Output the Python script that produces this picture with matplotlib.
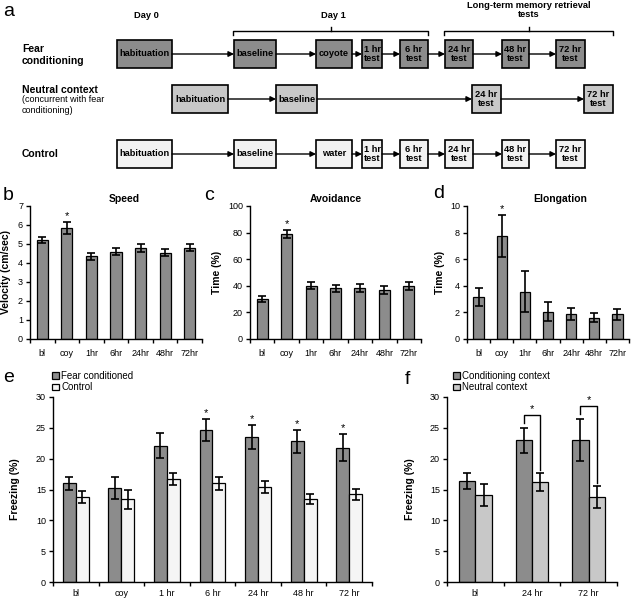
import numpy as np
import matplotlib.pyplot as plt
from matplotlib.patches import Rectangle

plt.rcParams['font.family'] = ['Liberation Sans', 'DejaVu Sans']

W, H = 640, 600

# ---- panel a: protocol ----
row_names = ['Fear\nconditioning', 'Neutral context', 'Control']
fear_stages = ['habituation', 'baseline', 'coyote', '1 hr\ntest', '6 hr\ntest',
               '24 hr\ntest', '48 hr\ntest', '72 hr\ntest']
neutral_stages = ['habituation', 'baseline', '24 hr\ntest', '72 hr\ntest']
control_stages = ['habituation', 'baseline', 'water', '1 hr\ntest', '6 hr\ntest',
                  '24 hr\ntest', '48 hr\ntest', '72 hr\ntest']

# ---- panels b-d ----
time_labels = ['bl', 'coy', '1hr', '6hr', '24hr', '48hr', '72hr']
speed = [5.2, 5.85, 4.35, 4.6, 4.8, 4.55, 4.8]
speed_err = [0.15, 0.3, 0.2, 0.2, 0.2, 0.17, 0.18]
avoid = [30, 79, 40, 38, 38, 37, 40]
avoid_err = [2.5, 3, 2.5, 2.5, 3, 3, 3]
elong = [3.15, 7.75, 3.55, 2.05, 1.9, 1.6, 1.85]
elong_err = [0.7, 1.6, 1.55, 0.7, 0.45, 0.35, 0.4]

# ---- panel e ----
e_labels = ['bl', 'coy', '1 hr', '6 hr', '24 hr', '48 hr', '72 hr']
fear_frz = [16.0, 15.2, 22.1, 24.6, 23.5, 22.8, 21.8]
fear_frz_err = [1.1, 1.8, 2.0, 1.8, 2.0, 1.9, 2.2]
ctrl_frz = [13.8, 13.4, 16.7, 16.0, 15.4, 13.5, 14.2]
ctrl_frz_err = [1.0, 1.6, 1.0, 1.0, 1.0, 0.8, 0.9]
e_sig = [False, False, False, True, True, True, True]

# ---- panel f ----
f_labels = ['bl', '24 hr', '72 hr']
cond_frz = [16.4, 23.0, 23.1]
cond_frz_err = [1.3, 2.0, 3.4]
neut_frz = [14.1, 16.2, 13.8]
neut_frz_err = [1.8, 1.5, 1.8]
f_sig = [False, True, True]

DARK = '#8c8c8c'
MID = '#c8c8c8'
LIGHT = '#f2f2f2'

fig = plt.figure(figsize=(6.4, 6.0), dpi=100)

# layout of panel a (pixel coordinates)
full_x = [(117, 172), (234, 276), (316, 352), (362, 382), (400, 428),
          (445, 473), (502, 529), (556, 585)]
neut_x = [(172, 228), (276, 317), (472, 501), (584, 613)]
rows = [(fear_stages, full_x, (40, 68), DARK),
        (neutral_stages, neut_x, (85, 113), MID),
        (control_stages, full_x, (140, 168), LIGHT)]

axa = fig.add_axes([0, 0, 1, 1])
axa.set_xlim(0, W)
axa.set_ylim(H, 0)
axa.axis('off')

for stages, xs, (y0, y1), col in rows:
    ym = (y0 + y1) / 2
    for name, (x0, x1) in zip(stages, xs):
        axa.add_patch(Rectangle((x0, y0), x1 - x0, y1 - y0, facecolor=col,
                                edgecolor='black', lw=1.2))
        axa.text((x0 + x1) / 2, ym, name, ha='center', va='center',
                 fontsize=6.7, fontweight='bold', linespacing=1.0)
    for (a0, a1), (b0, b1) in zip(xs[:-1], xs[1:]):
        axa.annotate('', xy=(b0, ym), xytext=(a1, ym),
                     arrowprops=dict(arrowstyle='-|>', color='black', lw=1.0,
                                     mutation_scale=8, shrinkA=0, shrinkB=0))

axa.text(22, 55, row_names[0], ha='left', va='center', fontsize=7.5,
         fontweight='bold', linespacing=1.2)
axa.text(22, 90, row_names[1], ha='left', va='center', fontsize=7.5,
         fontweight='bold')
axa.text(22, 105, '(concurrent with fear\nconditioning)', ha='left', va='center',
         fontsize=6.5, linespacing=1.15)
axa.text(22, 154, row_names[2], ha='left', va='center', fontsize=7.5,
         fontweight='bold')

axa.text(146, 16, 'Day 0', ha='center', va='center', fontsize=6.7, fontweight='bold')
axa.text(333, 16, 'Day 1', ha='center', va='center', fontsize=6.7, fontweight='bold')
axa.text(529, 10, 'Long-term memory retrieval\ntests', ha='center', va='center',
         fontsize=6.7, fontweight='bold', linespacing=1.1)
for bx0, bx1 in [(233, 428), (444, 613)]:
    bm = (bx0 + bx1) / 2
    axa.plot([bx0, bx0, bx1, bx1], [35, 31, 31, 35], color='black', lw=1.0)
    axa.plot([bm, bm], [31, 27], color='black', lw=1.0)

axa.text(3, 12, 'a', fontsize=14, va='center', ha='left')
axa.text(3, 195, 'b', fontsize=14, va='center', ha='left')
axa.text(204, 195, 'c', fontsize=14, va='center', ha='left')
axa.text(433, 193, 'd', fontsize=14, va='center', ha='left')
axa.text(3, 378, 'e', fontsize=14, va='center', ha='left')
axa.text(405, 379, 'f', fontsize=14, va='center', ha='left')


def px_axes(x0, y0, x1, y1):
    return fig.add_axes([x0 / W, 1 - y1 / H, (x1 - x0) / W, (y1 - y0) / H])


def excel_style(ax, labels, ymax, ystep, xpad):
    n = len(labels)
    ax.set_xlim(-0.5, n - 0.5)
    ax.set_ylim(0, ymax)
    for s in ['top', 'right']:
        ax.spines[s].set_visible(False)
    for s in ['left', 'bottom']:
        ax.spines[s].set_linewidth(1.0)
    ax.set_xticks(range(n))
    ax.set_xticklabels(labels)
    ax.set_xticks(np.arange(-0.5, n, 1.0), minor=True)
    ax.tick_params(axis='x', which='major', length=0, labelsize=6.5, pad=xpad)
    ax.tick_params(axis='x', which='minor', length=3, direction='out', width=1.0)
    ax.set_yticks(np.arange(0, ymax + ystep / 2, ystep))
    ax.tick_params(axis='y', length=3, direction='out', labelsize=6.5, pad=2, width=1.0)
    ax.patch.set_visible(False)


ekw = dict(elinewidth=1.2, capthick=1.2, ecolor='black')


def single_panel(box, vals, errs, ymax, ystep, title, title_x, ylabel, ylab_x):
    ax = px_axes(*box)
    x = np.arange(len(vals))
    ax.bar(x, vals, width=0.45, color=DARK, edgecolor='black', lw=0.9,
           yerr=errs, capsize=3, error_kw=ekw)
    excel_style(ax, time_labels, ymax, ystep, 7)
    ax.annotate('*', (1, vals[1] + errs[1]), xytext=(0, 0.5),
                textcoords='offset points', ha='center', va='bottom', fontsize=8)
    fig.text(title_x / W, 1 - 199 / H, title, ha='center', va='center',
             fontsize=7.5, fontweight='bold')
    ax.set_ylabel(ylabel, fontsize=7.5, fontweight='bold')
    ax.yaxis.set_label_coords((ylab_x - box[0]) / (box[2] - box[0]), 0.5)
    return ax


single_panel((30, 206, 202, 339), speed, speed_err, 7, 1, 'Speed', 124,
             'Velocity (cm/sec)', 11)
single_panel((250, 206, 421, 339), avoid, avoid_err, 100, 20, 'Avoidance', 336,
             'Time (%)', 222)
single_panel((467, 206, 629, 339), elong, elong_err, 10, 2, 'Elongation', 560,
             'Time (%)', 445)

# ---- panel e ----
axe = px_axes(53, 397, 372, 582)
we = 0.285
xe = np.arange(len(e_labels))
b1 = axe.bar(xe - we / 2, fear_frz, width=we, color=DARK, edgecolor='black', lw=0.9,
             yerr=fear_frz_err, capsize=3, error_kw=ekw)
b2 = axe.bar(xe + we / 2, ctrl_frz, width=we, color='#f5f5f5', edgecolor='black',
             lw=0.9, yerr=ctrl_frz_err, capsize=3, error_kw=ekw)
excel_style(axe, e_labels, 30, 5, 5)
for i, s in enumerate(e_sig):
    if s:
        axe.annotate('*', (xe[i] - we / 2, fear_frz[i] + fear_frz_err[i]),
                     xytext=(0, 0.5), textcoords='offset points', ha='center',
                     va='bottom', fontsize=8)
axe.set_ylabel('Freezing (%)', fontsize=7.5, fontweight='bold')
axe.yaxis.set_label_coords((20 - 53) / (372 - 53), 0.5)
fig.legend([b1, b2], ['Fear conditioned', 'Control'], loc='upper left',
           bbox_to_anchor=(52 / W, 1 - 371 / H), frameon=False, fontsize=7,
           handlelength=0.7, handleheight=0.7, handletextpad=0.25,
           labelspacing=0.15, borderpad=0, borderaxespad=0)

# ---- panel f ----
axf = px_axes(447, 397, 617, 582)
wf = 0.29
xf = np.arange(len(f_labels))
c1 = axf.bar(xf - wf / 2, cond_frz, width=wf, color=DARK, edgecolor='black', lw=0.9,
             yerr=cond_frz_err, capsize=3, error_kw=ekw)
c2 = axf.bar(xf + wf / 2, neut_frz, width=wf, color=MID, edgecolor='black', lw=0.9,
             yerr=neut_frz_err, capsize=3, error_kw=ekw)
excel_style(axf, f_labels, 30, 5, 5)
for i, s in enumerate(f_sig):
    if s:
        lb = cond_frz[i] + cond_frz_err[i] + 0.8
        rb = neut_frz[i] + neut_frz_err[i] + 0.5
        top = lb + 1.3
        axf.plot([xf[i] - wf / 2, xf[i] - wf / 2, xf[i] + wf / 2, xf[i] + wf / 2],
                 [lb, top, top, rb], color='black', lw=1.0, clip_on=False)
        axf.annotate('*', (xf[i], top), xytext=(0, 0.5), textcoords='offset points',
                     ha='center', va='bottom', fontsize=8, annotation_clip=False)
axf.set_ylabel('Freezing (%)', fontsize=7.5, fontweight='bold')
axf.yaxis.set_label_coords((415 - 447) / (617 - 447), 0.5)
fig.legend([c1, c2], ['Conditioning context', 'Neutral context'], loc='upper left',
           bbox_to_anchor=(453 / W, 1 - 371 / H), frameon=False, fontsize=7,
           handlelength=0.7, handleheight=0.7, handletextpad=0.25,
           labelspacing=0.15, borderpad=0, borderaxespad=0)

fig.savefig('out.png', dpi=100)
